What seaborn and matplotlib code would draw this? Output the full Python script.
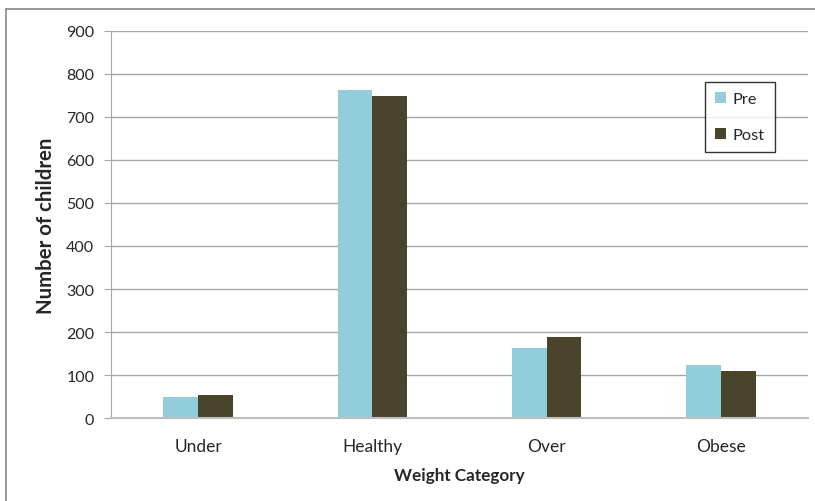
import matplotlib
matplotlib.use("Agg")
import matplotlib.pyplot as plt
import seaborn as sns
import pandas as pd
from matplotlib.lines import Line2D

categories = ["Under", "Healthy", "Over", "Obese"]
pre_values = [49, 763, 163, 124]
post_values = [53, 749, 188, 109]
series_names = ["Pre", "Post"]
y_ticks = [0, 100, 200, 300, 400, 500, 600, 700, 800, 900]

sns.set_style("white")
plt.rcParams['font.family'] = ['Lato', 'DejaVu Sans']

df = pd.DataFrame({
    "Weight Category": categories * 2,
    "Number of children": pre_values + post_values,
    "Series": [series_names[0]] * 4 + [series_names[1]] * 4,
})

fig = plt.figure(figsize=(8.15, 5.02), dpi=100)
ax = fig.add_axes([111/815, 1-419.3/502, (808-111)/815, (419.3-31.5)/502])

palette = {"Pre": "#92CDDC", "Post": "#4A452A"}
sns.barplot(data=df, x="Weight Category", y="Number of children", hue="Series",
            palette=palette, width=0.4, gap=0, ax=ax, saturation=1,
            edgecolor=None, linewidth=0)

ax.set_ylim(0, 900)
ax.set_yticks(y_ticks)
ax.set_xlim(-0.5, 3.5)
ax.yaxis.grid(True, color="#A6A6A6", linewidth=1)
ax.set_axisbelow(True)
for s in ["top", "right"]:
    ax.spines[s].set_visible(False)
ax.spines["left"].set_color("#A6A6A6")
ax.spines["bottom"].set_color("#BFBFBF")
ax.spines["bottom"].set_linewidth(1.5)
ax.tick_params(axis="y", left=True, length=5, color="#A6A6A6", labelsize=11.5, labelcolor="#262626", pad=7)
ax.tick_params(axis="x", bottom=False, labelsize=12.5, labelcolor="#262626", pad=11)
ax.set_xlabel("Weight Category", fontsize=12.3, fontweight="bold", labelpad=9)
ax.set_ylabel("Number of children", fontsize=14.7, fontweight="bold", labelpad=7)

ax.legend(loc="upper left", bbox_to_anchor=((705-111)/697, 1-(83-31.5)/387.8),
          borderaxespad=0,
          frameon=True, fancybox=False, edgecolor="black", fontsize=11.8,
          handlelength=0.7, handleheight=0.7, labelspacing=1.3, borderpad=0.6,
          handletextpad=0.4, title=None)
leg = ax.get_legend()
leg.get_frame().set_linewidth(1)

# outer chart border
fig.add_artist(Line2D([6/815, 6/815], [1-10/502, 0], transform=fig.transFigure, color="#888888", linewidth=1.2))
fig.add_artist(Line2D([6/815, 1], [1-10/502, 1-10/502], transform=fig.transFigure, color="#888888", linewidth=1.2))

fig.savefig("out.png", dpi=100)
